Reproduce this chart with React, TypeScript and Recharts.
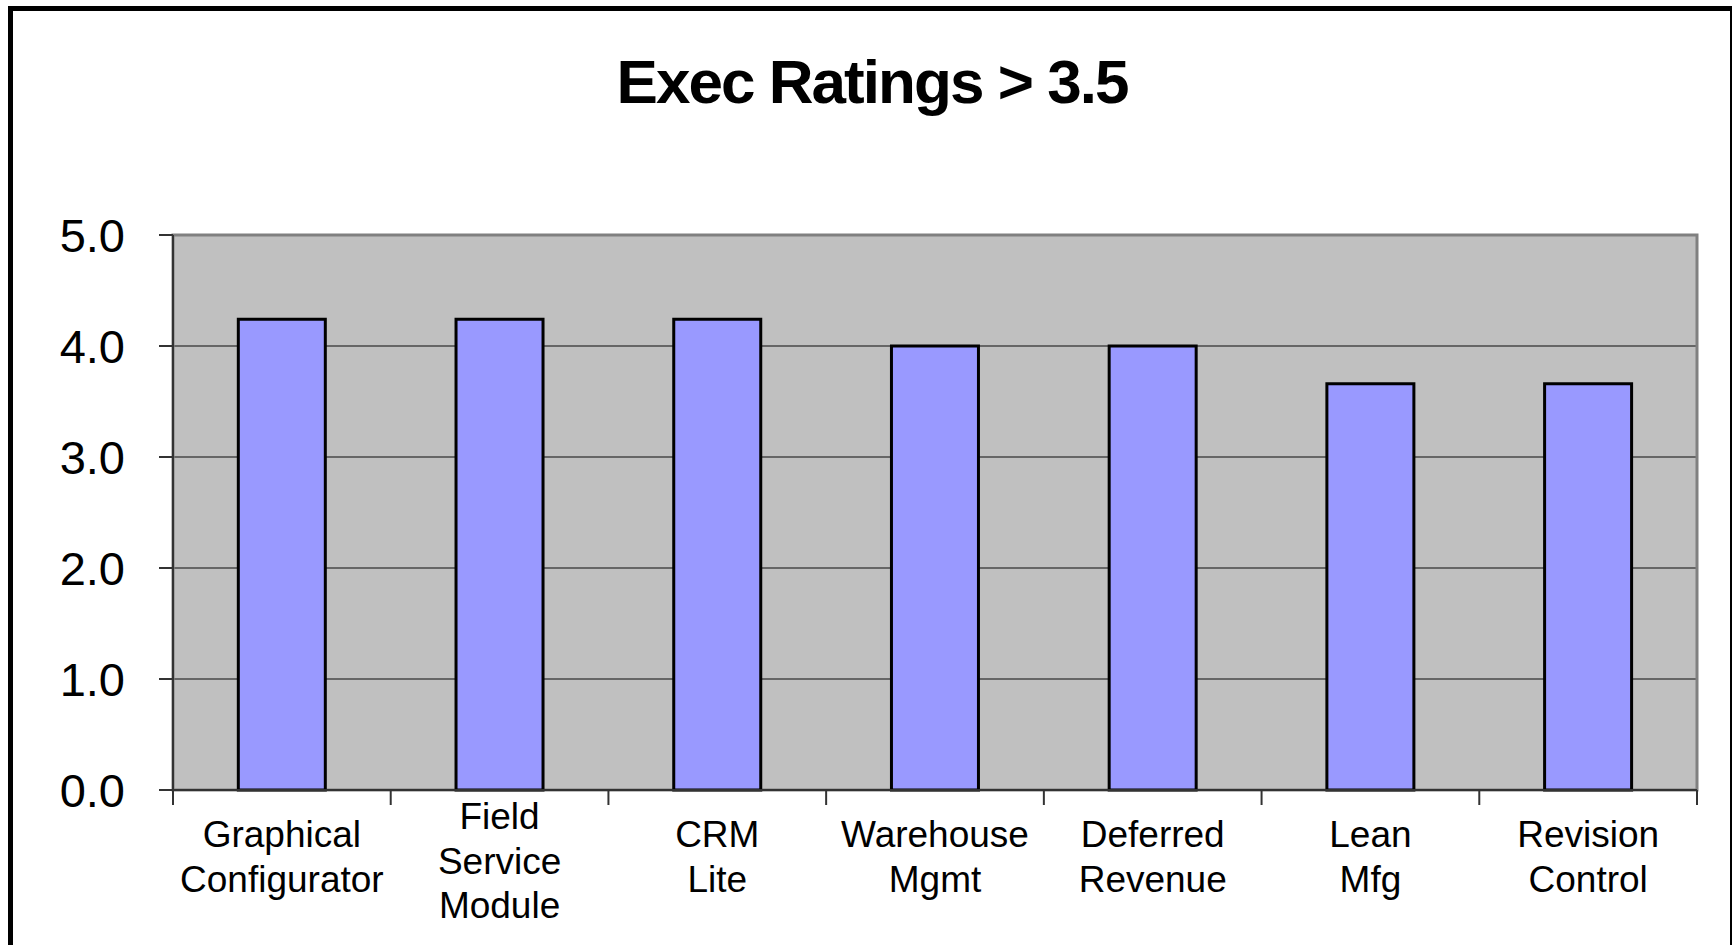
import { Bar, BarChart, CartesianGrid, ReferenceArea, XAxis, YAxis } from "recharts";

const categories = [
  "Graphical\nConfigurator",
  "Field\nService\nModule",
  "CRM\nLite",
  "Warehouse\nMgmt",
  "Deferred\nRevenue",
  "Lean\nMfg",
  "Revision\nControl",
];
const ratings = [4.24, 4.24, 4.24, 4.0, 4.0, 3.66, 3.66];
const yTicks = [0, 1, 2, 3, 4, 5];
const title = "Exec Ratings > 3.5";

const W = 1733;
const H = 945;
const PLOT_LEFT = 173;
const PLOT_RIGHT = 1697;
const PLOT_TOP = 235;
const PLOT_BOTTOM = 790;
const FONT = '"Liberation Sans", Arial, sans-serif';

const rows = categories.map((name, i) => ({ name, rating: ratings[i] }));

function CategoryTick(props: any) {
  const { x, payload, index } = props;
  const half = (PLOT_RIGHT - PLOT_LEFT) / categories.length / 2;
  const lines = String(payload.value).split("\n");
  const lineH = 44.5;
  // shorter labels start lower, roughly centred against the 3-line one
  const first = 829 + (3 - lines.length) * 18;
  return (
    <g>
      <line x1={x - half} x2={x - half} y1={PLOT_BOTTOM} y2={PLOT_BOTTOM + 15} stroke="#333" strokeWidth={2} />
      {index === categories.length - 1 && (
        <line x1={x + half} x2={x + half} y1={PLOT_BOTTOM} y2={PLOT_BOTTOM + 15} stroke="#333" strokeWidth={2} />
      )}
      <text x={x} y={first} textAnchor="middle" fontSize={37} fontFamily={FONT} fill="#000">
        {lines.map((l, i) => (
          <tspan key={i} x={x} y={first + i * lineH}>
            {l}
          </tspan>
        ))}
      </text>
    </g>
  );
}

export default function App() {
  return (
    <div
      style={{
        position: "absolute",
        left: 0,
        top: 0,
        width: W,
        height: H,
        overflow: "hidden",
        background: "#fff",
        fontFamily: FONT,
      }}
    >
      <div
        style={{
          position: "absolute",
          left: 8,
          top: 6,
          width: 1724,
          height: 1100,
          boxSizing: "border-box",
          borderLeft: "5px solid #000",
          borderTop: "5px solid #000",
          borderRight: "2px solid #000",
        }}
      />
      <svg width={W} height={H} style={{ position: "absolute", left: 0, top: 0 }}>
        <text
          x={873}
          y={103}
          textAnchor="middle"
          fontSize={62}
          fontWeight="bold"
          fontFamily={FONT}
          textLength={513}
          lengthAdjust="spacing"
          fill="#000"
        >
          {title}
        </text>
      </svg>
      <div style={{ position: "absolute", left: 0, top: 0 }}>
        <BarChart
          width={W}
          height={H}
          data={rows}
          margin={{ top: PLOT_TOP, right: W - PLOT_RIGHT, bottom: 0, left: 0 }}
          barCategoryGap="30%"
        >
          <CartesianGrid fill="#C0C0C0" vertical={false} stroke="#666" strokeWidth={2} />
          <ReferenceArea y1={0} y2={5} fill="none" stroke="#808080" strokeWidth={3} ifOverflow="visible" />
          <XAxis
            dataKey="name"
            interval={0}
            height={H - PLOT_BOTTOM}
            tickLine={false}
            axisLine={{ stroke: "#333", strokeWidth: 2 }}
            tick={<CategoryTick />}
          />
          <YAxis
            width={PLOT_LEFT}
            domain={[0, 5]}
            ticks={yTicks}
            tickSize={14}
            tickMargin={34}
            axisLine={{ stroke: "#333", strokeWidth: 2 }}
            tickLine={{ stroke: "#333", strokeWidth: 2 }}
            tick={{ fontSize: 47, fill: "#000", fontFamily: FONT }}
            tickFormatter={(v: number) => v.toFixed(1)}
          />
          <Bar dataKey="rating" fill="#9999FF" stroke="#000" strokeWidth={3} isAnimationActive={false} />
        </BarChart>
      </div>
    </div>
  );
}
